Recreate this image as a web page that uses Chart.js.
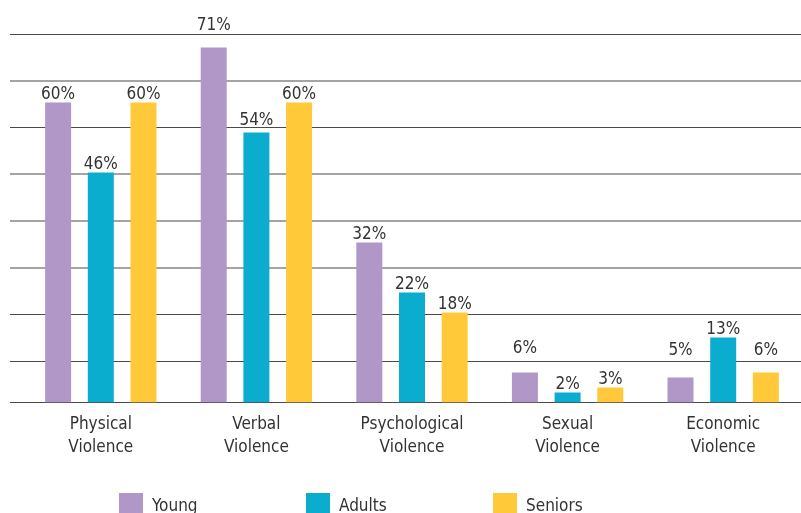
<!DOCTYPE html>
<html>
<head>
<meta charset="utf-8">
<script src="https://cdn.jsdelivr.net/npm/chart.js@4.4.0/dist/chart.umd.min.js"></script>
<style>
  html, body { margin: 0; padding: 0; background: #fff; overflow: hidden; }
  #wrap { position: relative; width: 801px; height: 513px; }
  #legend {
    position: absolute; left: 119px; top: 493px; display: flex;
    font-family: "Liberation Sans Narrow", "DejaVu Sans Condensed", sans-serif;
    font-size: 17px; color: #333;
  }
  .item { width: 187px; height: 24px; display: flex; align-items: center; }
  .box { width: 24px; height: 24px; margin-right: 9px; }
</style>
</head>
<body>
<div id="wrap">
  <canvas id="myChart" width="801" height="513"></canvas>
  <div id="legend"></div>
</div>
<script>
// Data
const categories = [
  ["Physical", "Violence"],
  ["Verbal", "Violence"],
  ["Psychological", "Violence"],
  ["Sexual", "Violence"],
  ["Economic", "Violence"]
];
const seriesNames = ["Young", "Adults", "Seniors"];
const young = [60, 71, 32, 6, 5];
const adults = [46, 54, 22, 2, 13];
const seniors = [60, 60, 18, 3, 6];
// horizontal rule positions (in % units of the value axis)
const gridVals = [0, 8.2, 17.6, 26.9, 36.3, 45.7, 55, 64.3, 73.6];

const colors = ["#B097C7", "#0AADCE", "#FFC93A"];
const FONT = '"Liberation Sans Narrow", "DejaVu Sans Condensed", sans-serif';
// extra lift for a few value labels (px)
const labelLift = [
  [0, 14, 0, 16, 19],
  [0, 4, 0, 0, 0],
  [0, 0, 0, 0, 14]
];

// Draw the rules, starting a bit left of the plot area
const gridPlugin = {
  id: "gridPlugin",
  beforeDatasetsDraw(chart) {
    const ctx = chart.ctx;
    const y = chart.scales.y;
    ctx.save();
    ctx.strokeStyle = "#4a4a4a";
    ctx.lineWidth = 1.2;
    gridVals.forEach((v) => {
      const py = y.getPixelForValue(v);
      ctx.beginPath();
      ctx.moveTo(10, py);
      ctx.lineTo(chart.width, py);
      ctx.stroke();
    });
    ctx.restore();
  }
};

// Value labels on top of bars
const labelPlugin = {
  id: "labelPlugin",
  afterDatasetsDraw(chart) {
    const ctx = chart.ctx;
    ctx.save();
    ctx.font = "17px " + FONT;
    ctx.fillStyle = "#333";
    ctx.textAlign = "center";
    ctx.textBaseline = "alphabetic";
    chart.data.datasets.forEach((ds, i) => {
      chart.getDatasetMeta(i).data.forEach((bar, j) => {
        ctx.fillText(ds.data[j] + "%", bar.x, bar.y - 4 - labelLift[i][j]);
      });
    });
    ctx.restore();
  }
};

const seriesData = [young, adults, seniors];

new Chart(document.getElementById("myChart"), {
  type: "bar",
  data: {
    labels: categories,
    datasets: seriesNames.map((name, i) => ({
      label: name,
      data: seriesData[i],
      backgroundColor: colors[i],
      categoryPercentage: 0.823,
      barPercentage: 0.609
    }))
  },
  options: {
    responsive: false,
    animation: false,
    layout: { padding: { left: 23, right: 0, top: 0, bottom: 0 } },
    plugins: {
      legend: { display: false },
      tooltip: { enabled: false }
    },
    scales: {
      x: {
        grid: { display: false, drawTicks: false },
        border: { display: false },
        ticks: {
          color: "#333",
          padding: 11,
          font: { family: FONT, size: 17, lineHeight: 1.35 }
        },
        afterFit(scale) {
          scale.height = 110.5;
        }
      },
      y: { display: false, min: 0, max: 80.5 }
    }
  },
  plugins: [gridPlugin, labelPlugin]
});

// legend
var legend = document.getElementById("legend");
for (let i = 0; i < seriesNames.length; i++) {
  var item = document.createElement("div");
  item.className = "item";
  var box = document.createElement("span");
  box.className = "box";
  box.style.backgroundColor = colors[i];
  var txt = document.createElement("span");
  txt.textContent = seriesNames[i];
  item.appendChild(box);
  item.appendChild(txt);
  legend.appendChild(item);
}
</script>
</body>
</html>
